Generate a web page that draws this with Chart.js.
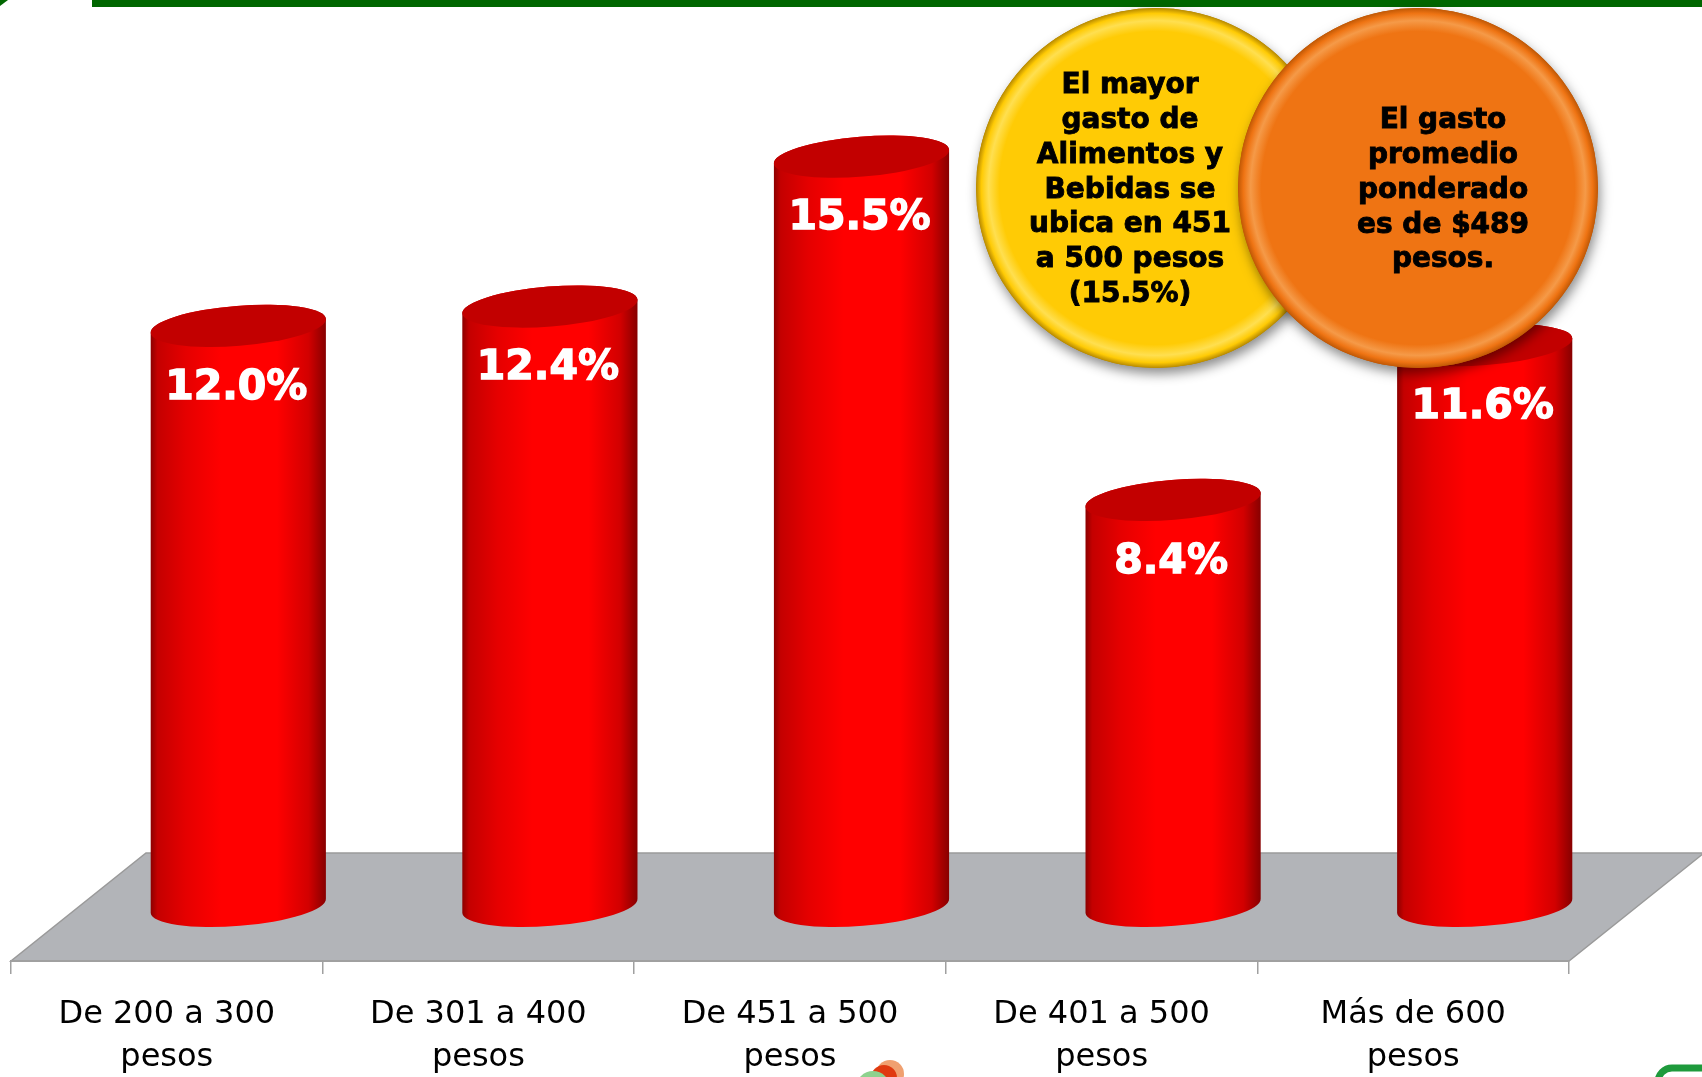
<!DOCTYPE html>
<html>
<head>
  <title>Gasto en Alimentos y Bebidas</title>
  <script src="https://cdn.jsdelivr.net/npm/chart.js"></script>
  <style>
    html, body { margin: 0; padding: 0; background: #fff; }
  </style>
</head>
<body>
  <canvas id="gastoChart" width="1702" height="1077"></canvas>

  <script>
    // data
    const categories = [
      ["De 200 a 300", "pesos"],
      ["De 301 a 400", "pesos"],
      ["De 451 a 500", "pesos"],
      ["De 401 a 500", "pesos"],
      ["Más de 600", "pesos"]
    ];
    const percentages = [12.0, 12.4, 15.5, 8.4, 11.6];
    const yellowNote = ["El mayor", "gasto de", "Alimentos y", "Bebidas se", "ubica en 451", "a 500 pesos", "(15.5%)"];
    const orangeNote = ["El gasto", "promedio", "ponderado", "es de $489", "pesos."];

    const DEPTH_X = 135, DEPTH_Y = 108; // floor depth of the 3d look

    // background bits: green top rule, gray floor
    const backdrop = {
      id: 'backdrop',
      beforeDraw(chart) {
        const ctx = chart.ctx;
        const a = chart.chartArea;
        ctx.save();
        ctx.fillStyle = '#006600';
        ctx.fillRect(92, 0, chart.width - 92, 7);
        ctx.beginPath();
        ctx.moveTo(0, 0); ctx.lineTo(8, 0); ctx.lineTo(0, 6); ctx.closePath();
        ctx.fill();

        ctx.beginPath();
        ctx.moveTo(a.left, a.bottom);
        ctx.lineTo(a.right, a.bottom);
        ctx.lineTo(a.right + DEPTH_X, a.bottom - DEPTH_Y);
        ctx.lineTo(a.left + DEPTH_X, a.bottom - DEPTH_Y);
        ctx.closePath();
        ctx.fillStyle = '#b2b4b8';
        ctx.fill();
        ctx.strokeStyle = '#9a9a9a';
        ctx.lineWidth = 1.5;
        ctx.stroke();

        // little logos cut off at the bottom edge
        ctx.fillStyle = '#f0a070';
        ctx.beginPath(); ctx.arc(890, 1074, 14, 0, Math.PI * 2); ctx.fill();
        ctx.fillStyle = '#e03a10';
        ctx.beginPath(); ctx.arc(884, 1078, 13, 0, Math.PI * 2); ctx.fill();
        ctx.fillStyle = '#8ed28e';
        ctx.beginPath(); ctx.arc(873, 1088, 17, 0, Math.PI * 2); ctx.fill();
        ctx.strokeStyle = '#1e9a3c';
        ctx.lineWidth = 7;
        ctx.beginPath();
        ctx.moveTo(1658, 1080);
        ctx.arcTo(1658, 1068, 1672, 1068, 14);
        ctx.lineTo(1702, 1068);
        ctx.stroke();
        ctx.restore();
      }
    };

    // cylinders drawn on top of the (invisible) bars
    const cylinders = {
      id: 'cylinders',
      afterDatasetsDraw(chart) {
        const ctx = chart.ctx;
        const meta = chart.getDatasetMeta(0);
        const tilt = -0.08, ry = 20;
        ctx.save();
        meta.data.forEach((bar, i) => {
          const cx = bar.x + DEPTH_X / 2 + 4;
          const rx = bar.width / 2;
          const top = bar.y, base = bar.base;

          const g = ctx.createLinearGradient(cx - rx, 0, cx + rx, 0);
          g.addColorStop(0, '#8a0000');
          g.addColorStop(0.04, '#c40000');
          g.addColorStop(0.2, '#e50000');
          g.addColorStop(0.4, '#ff0000');
          g.addColorStop(0.72, '#ff0000');
          g.addColorStop(0.9, '#d20000');
          g.addColorStop(1, '#860000');

          ctx.beginPath();
          ctx.ellipse(cx, base, rx, ry, tilt, 0, Math.PI, false);
          ctx.ellipse(cx, top, rx, ry, tilt, Math.PI, Math.PI * 2, false);
          ctx.closePath();
          ctx.fillStyle = g;
          ctx.fill();

          ctx.beginPath();
          ctx.ellipse(cx, top, rx, ry, tilt, 0, Math.PI * 2);
          ctx.fillStyle = '#c20000';
          ctx.fill();

          const txt = percentages[i].toFixed(1) + '%';
          ctx.fillStyle = '#ffffff';
          ctx.strokeStyle = '#ffffff';
          ctx.lineWidth = 1.4;
          ctx.font = 'bold 41px "DejaVu Sans"';
          ctx.textAlign = 'center';
          ctx.textBaseline = 'middle';
          ctx.fillText(txt, cx - 2, top + 62);
          ctx.strokeText(txt, cx - 2, top + 62);
        });
        ctx.restore();
      }
    };

    function drawCoin(ctx, cx, cy, r, base, light, dark) {
      ctx.save();
      ctx.shadowColor = 'rgba(0,0,0,0.45)';
      ctx.shadowBlur = 12;
      ctx.shadowOffsetX = 2;
      ctx.shadowOffsetY = 6;
      ctx.beginPath();
      ctx.arc(cx, cy, r, 0, Math.PI * 2);
      ctx.fillStyle = dark;
      ctx.fill();
      ctx.restore();

      const g = ctx.createRadialGradient(cx, cy, 0, cx, cy, r);
      g.addColorStop(0, base);
      g.addColorStop(0.87, base);
      g.addColorStop(0.93, light);
      g.addColorStop(0.97, base);
      g.addColorStop(1, dark);
      ctx.beginPath();
      ctx.arc(cx, cy, r, 0, Math.PI * 2);
      ctx.fillStyle = g;
      ctx.fill();
    }

    const callouts = {
      id: 'callouts',
      afterDraw(chart) {
        const ctx = chart.ctx;
        ctx.save();
        drawCoin(ctx, 1156, 188, 180, '#ffcb05', '#ffdf50', '#b88a00');
        drawCoin(ctx, 1418, 188, 180, '#ef7413', '#f59a48', '#c05805');

        ctx.fillStyle = '#000000';
        ctx.strokeStyle = '#000000';
        ctx.lineWidth = 0.9;
        ctx.font = 'bold 28px "DejaVu Sans"';
        ctx.textAlign = 'center';
        ctx.textBaseline = 'middle';
        yellowNote.forEach((t, i) => {
          ctx.fillText(t, 1130, 86 + i * 34.8);
          ctx.strokeText(t, 1130, 86 + i * 34.8);
        });
        orangeNote.forEach((t, i) => {
          ctx.fillText(t, 1443, 121 + i * 34.8);
          ctx.strokeText(t, 1443, 121 + i * 34.8);
        });
        ctx.restore();
      }
    };

    const ctx = document.getElementById("gastoChart").getContext("2d");
    new Chart(ctx, {
      type: 'bar',
      data: {
        labels: categories,
        datasets: [{
          label: 'Gasto',
          data: percentages,
          backgroundColor: 'rgba(0,0,0,0)',
          barPercentage: 0.564,
          categoryPercentage: 1
        }]
      },
      options: {
        responsive: false,
        animation: false,
        layout: { padding: { left: 11, right: 133, top: 60, bottom: 0 } },
        plugins: {
          legend: { display: false },
          tooltip: { enabled: false }
        },
        scales: {
          x: {
            grid: { offset: true, drawOnChartArea: false, tickLength: 13, color: '#a0a0a0', lineWidth: 1.5 },
            border: { color: '#a0a0a0', width: 2 },
            ticks: {
              color: '#000000',
              font: { family: 'DejaVu Sans', size: 32, lineHeight: 1.34 },
              padding: 19,
              maxRotation: 0,
              autoSkip: false
            },
            afterFit(scale) { scale.height = 116; }
          },
          y: { display: false, min: -1.14, max: 17.5 }
        }
      },
      plugins: [backdrop, cylinders, callouts]
    });
  </script>
</body>
</html>
